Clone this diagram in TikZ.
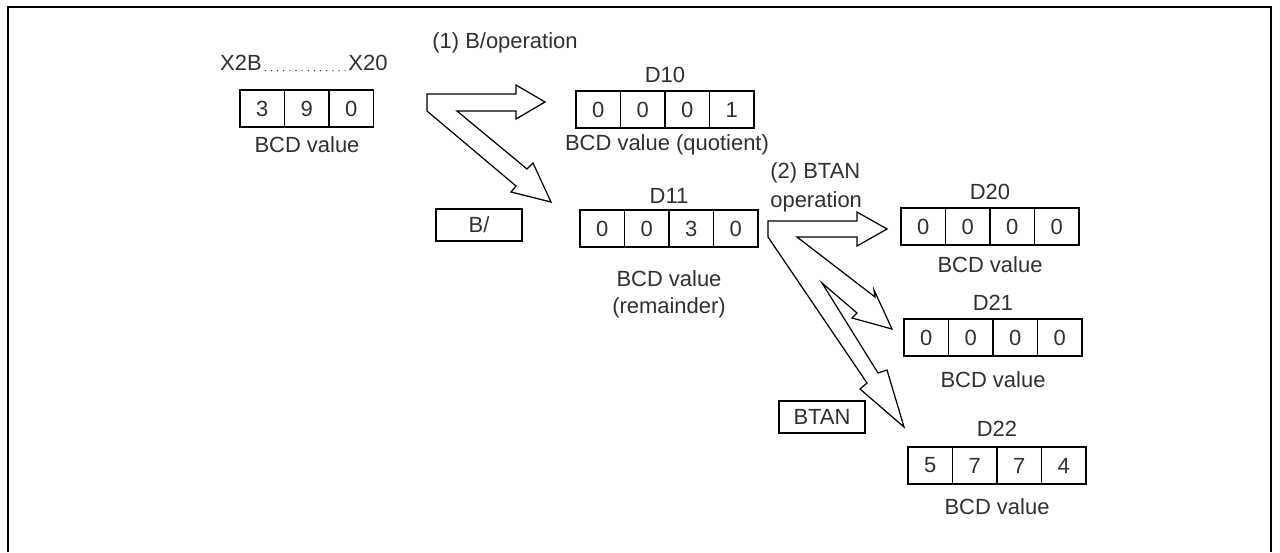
\documentclass[tikz,border=0pt]{standalone}
\usepackage{fontspec}
\setmainfont{Liberation Sans}
\usepackage{tikz}
\usetikzlibrary{positioning}
\definecolor{textgray}{HTML}{303030}

\begin{document}
\begin{tikzpicture}[x=0.02cm, y=-0.02cm,
    cell/.style={draw=black, line width=0.8pt},
    txt/.style={font=\fontsize{12.5}{15.3}\selectfont, text=textgray, inner sep=0pt},
    opbox/.style={draw=black, line width=0.8pt, font=\fontsize{12.5}{15.3}\selectfont, text=textgray,
        minimum width=1.72cm, minimum height=0.64cm, inner sep=0pt},
    blockarrow/.style={draw=black, fill=white, line width=0.7pt, line join=miter},
    dots/.style={draw=textgray, line width=0.6pt, dash pattern=on 0.6pt off 2.9pt}]
    \useasboundingbox (0,0) rectangle (1280,552);
    \def\cw{44.5}
    \def\ch{37}
    % Frame
    \draw[line width=1.1pt] (8,552) -- (8,7) -- (1271,7) -- (1271,552);

    % Source register
    \node[txt] (x2b) at (241,63) {X2B};
    \node[txt] (x20) at (368,63) {X20};
    \draw[dots] ([xshift=1.5pt]x2b.base east) -- ([xshift=-1pt]x20.base west);
    \foreach \v [count=\k from 0] in {3,9,0} {
        \draw[cell] (240+\k*\cw, 90) rectangle +(\cw, \ch);
        \node[txt] (src-\k) at (240+\k*\cw+\cw/2, 90+\ch/2) {\v};
    }
    \node[txt] (srcval) at (307,145) {BCD value};

    % (1) B/ operation
    \node[txt, anchor=west] (op1) at (432,43) {(1) B/operation};
    \draw[blockarrow] (427,94) -- (516,94) -- (516,85) -- (545,102) -- (516,119) -- (516,111)
        -- (457,111) -- (527,169) -- (533,163) -- (551,202) -- (511,192) -- (516,186)
        -- (427,111) -- cycle;
    \node[opbox] (bdiv) at (479,225) {B/};

    % Quotient and remainder
    \node[txt] (d10lbl) at (665,75) {D10};
    \foreach \v [count=\k from 0] in {0,0,0,1} {
        \draw[cell] (576+\k*\cw, 91) rectangle +(\cw, \ch);
        \node[txt] (d10-\k) at (576+\k*\cw+\cw/2, 91+\ch/2) {\v};
    }
    \node[txt] (d10val) at (667,145) {BCD value (quotient)};

    \node[txt] (d11lbl) at (669,196) {D11};
    \foreach \v [count=\k from 0] in {0,0,3,0} {
        \draw[cell] (580+\k*\cw, 210) rectangle +(\cw, \ch);
        \node[txt] (d11-\k) at (580+\k*\cw+\cw/2, 210+\ch/2) {\v};
    }
    \node[txt, align=center] (d11val) at (669,294) {BCD value\\(remainder)};

    % (2) BTAN operation
    \node[txt, anchor=west] (op2a) at (770,173) {(2) BTAN};
    \node[txt, anchor=west] (op2b) at (770,202) {operation};
    \draw[blockarrow] (768,221) -- (857,221) -- (857,212) -- (887,229) -- (857,246) -- (857,237)
        -- (797,237) -- (875,297) -- (874,290) -- (892,329) -- (852,318) -- (857,313)
        -- (822,283) -- (878,373) -- (887,370) -- (904,427) -- (860,389) -- (867,383)
        -- (768,237) -- cycle;
    \node[opbox] (btan) at (822,417) {BTAN};

    % Results
    \node[txt] (d20lbl) at (990,192) {D20};
    \foreach \v [count=\k from 0] in {0,0,0,0} {
        \draw[cell] (901+\k*\cw, 208) rectangle +(\cw, \ch);
        \node[txt] (d20-\k) at (901+\k*\cw+\cw/2, 208+\ch/2) {\v};
    }
    \node[txt] (d20val) at (990,265) {BCD value};

    \node[txt] (d21lbl) at (993,303) {D21};
    \foreach \v [count=\k from 0] in {0,0,0,0} {
        \draw[cell] (904+\k*\cw, 319) rectangle +(\cw, \ch);
        \node[txt] (d21-\k) at (904+\k*\cw+\cw/2, 319+\ch/2) {\v};
    }
    \node[txt] (d21val) at (993,380) {BCD value};

    \node[txt] (d22lbl) at (997,429) {D22};
    \foreach \v [count=\k from 0] in {5,7,7,4} {
        \draw[cell] (908+\k*\cw, 447) rectangle +(\cw, \ch);
        \node[txt] (d22-\k) at (908+\k*\cw+\cw/2, 447+\ch/2) {\v};
    }
    \node[txt] (d22val) at (997,507) {BCD value};
\end{tikzpicture}
\end{document}
